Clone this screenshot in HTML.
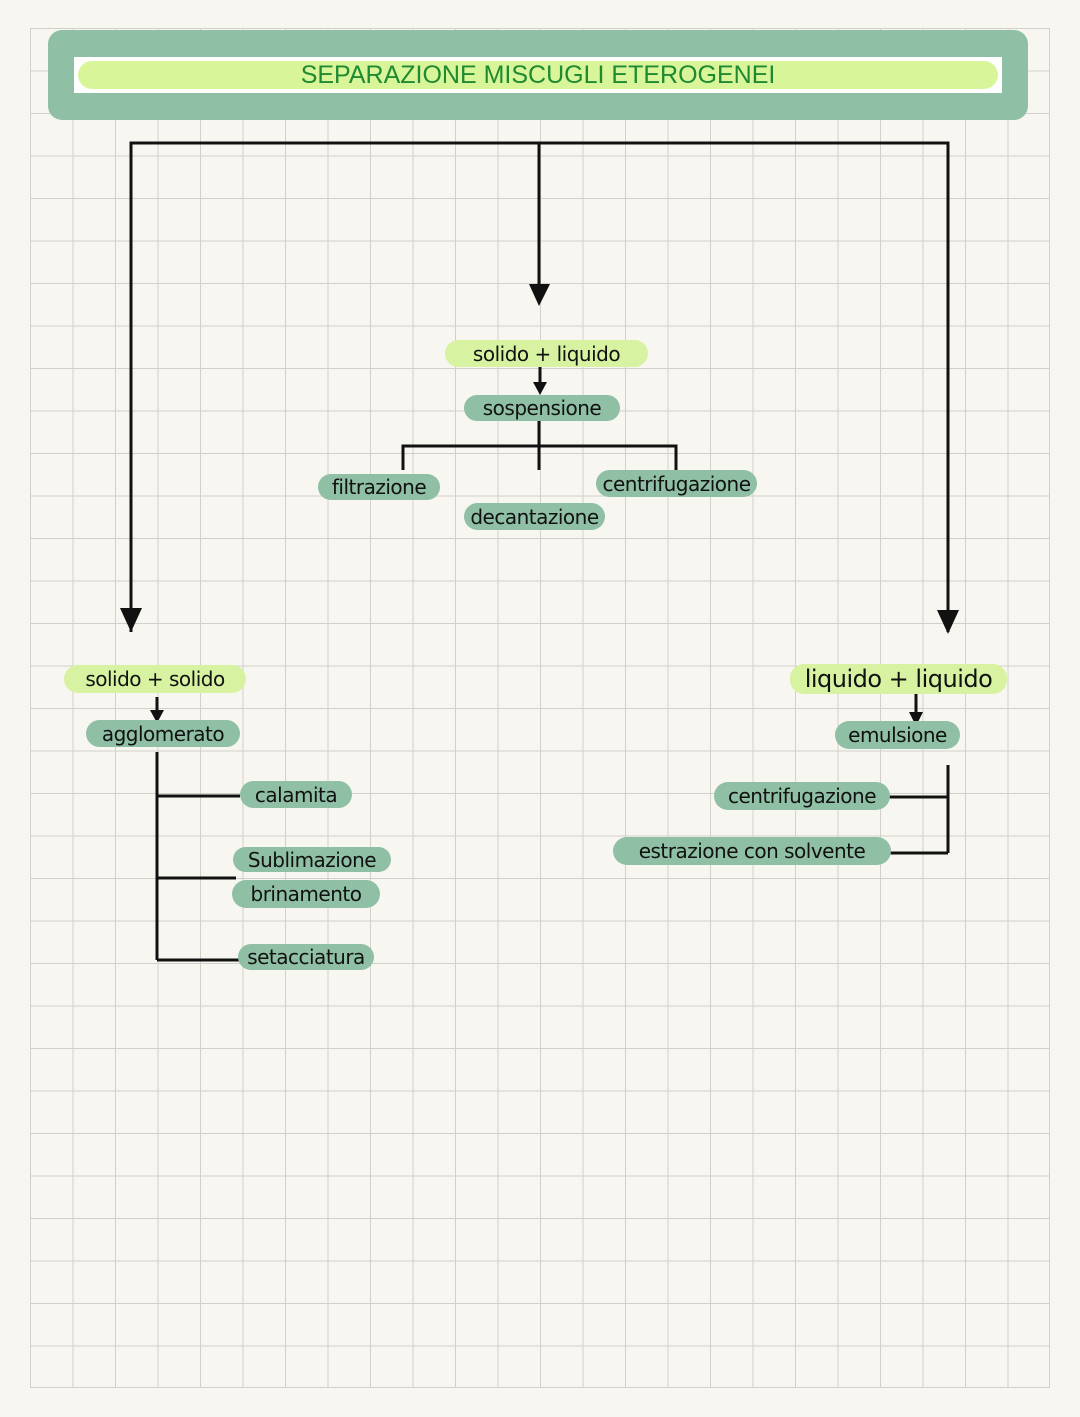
<!DOCTYPE html>
<html><head><meta charset="utf-8"><style>
body{margin:0;width:1080px;height:1417px;background:#f8f6f1;position:relative;overflow:hidden;font-family:"DejaVu Sans","Liberation Sans",sans-serif}
.grid{position:absolute;left:30px;top:28px;width:1020px;height:1360px;
background-image:linear-gradient(#d2d0cb 1px,transparent 1px),linear-gradient(90deg,#d2d0cb 1px,transparent 1px);
background-size:42.5px 42.5px;border-right:1px solid #d2d0cb;border-bottom:1px solid #d2d0cb;box-sizing:border-box}
.p{position:absolute;border-radius:14px;display:flex;align-items:center;justify-content:center;color:#111;font-size:20px;white-space:nowrap;letter-spacing:-0.5px}
.l{background:#d7f2a0}.d{background:#8fbfa4}
.ln{position:absolute;background:#111}
</style></head><body>
<div class="grid"></div>
<div style="position:absolute;left:48px;top:30px;width:980px;height:90px;background:#8fbfa4;border-radius:14px"></div>
<div style="position:absolute;left:74px;top:57px;width:928px;height:36px;background:#fff"></div>
<div style="position:absolute;left:78px;top:61px;width:920px;height:28px;background:#d8f59a;border-radius:14px"></div>
<div style="position:absolute;left:74px;top:57px;width:928px;height:36px;display:flex;align-items:center;justify-content:center;color:#1f8a30;font-family:'Liberation Sans',sans-serif;font-size:25px">SEPARAZIONE MISCUGLI ETEROGENEI</div>
<svg style="position:absolute;left:0;top:0" width="1080" height="1417">
<g stroke="#111" stroke-width="3" fill="none">
<path d="M131 632V143H948V632M539 143V300"/>
<path d="M540 367V385M539 421V470M403 470V446H676V470"/>
<path d="M157 697V712M157 752V960M157 796H240M157 878H236M157 960H240"/>
<path d="M916 694V715M948 765V853M888 797H948M890 853H948"/>
</g>
<g fill="#111">
<path d="M120 608L142 608L131 632Z"/><path d="M937 610L959 610L948 634Z"/><path d="M529 284L550 284L539 306Z"/>
<path d="M533 382L547 382L540 395Z"/><path d="M150 710L164 710L157 723Z"/><path d="M909 712L923 712L916 726Z"/>
</g></svg>
<div class="p l" style="left:445px;top:340px;width:203px;height:27px">solido + liquido</div>
<div class="p d" style="left:464px;top:395px;width:156px;height:26px">sospensione</div>
<div class="p d" style="left:318px;top:474px;width:122px;height:26px">filtrazione</div>
<div class="p d" style="left:464px;top:503px;width:141px;height:27px">decantazione</div>
<div class="p d" style="left:596px;top:470px;width:161px;height:27px">centrifugazione</div>
<div class="p l" style="left:64px;top:665px;width:182px;height:28px">solido + solido</div>
<div class="p d" style="left:86px;top:720px;width:154px;height:27px">agglomerato</div>
<div class="p d" style="left:240px;top:781px;width:112px;height:27px">calamita</div>
<div class="p d" style="left:233px;top:847px;width:158px;height:25px">Sublimazione</div>
<div class="p d" style="left:232px;top:880px;width:148px;height:28px">brinamento</div>
<div class="p d" style="left:238px;top:944px;width:136px;height:26px">setacciatura</div>
<div class="p l" style="left:790px;top:664px;width:217px;height:30px;font-size:24px">liquido + liquido</div>
<div class="p d" style="left:835px;top:721px;width:125px;height:28px">emulsione</div>
<div class="p d" style="left:714px;top:782px;width:176px;height:28px">centrifugazione</div>
<div class="p d" style="left:613px;top:837px;width:278px;height:28px">estrazione con solvente</div>
</body></html>
